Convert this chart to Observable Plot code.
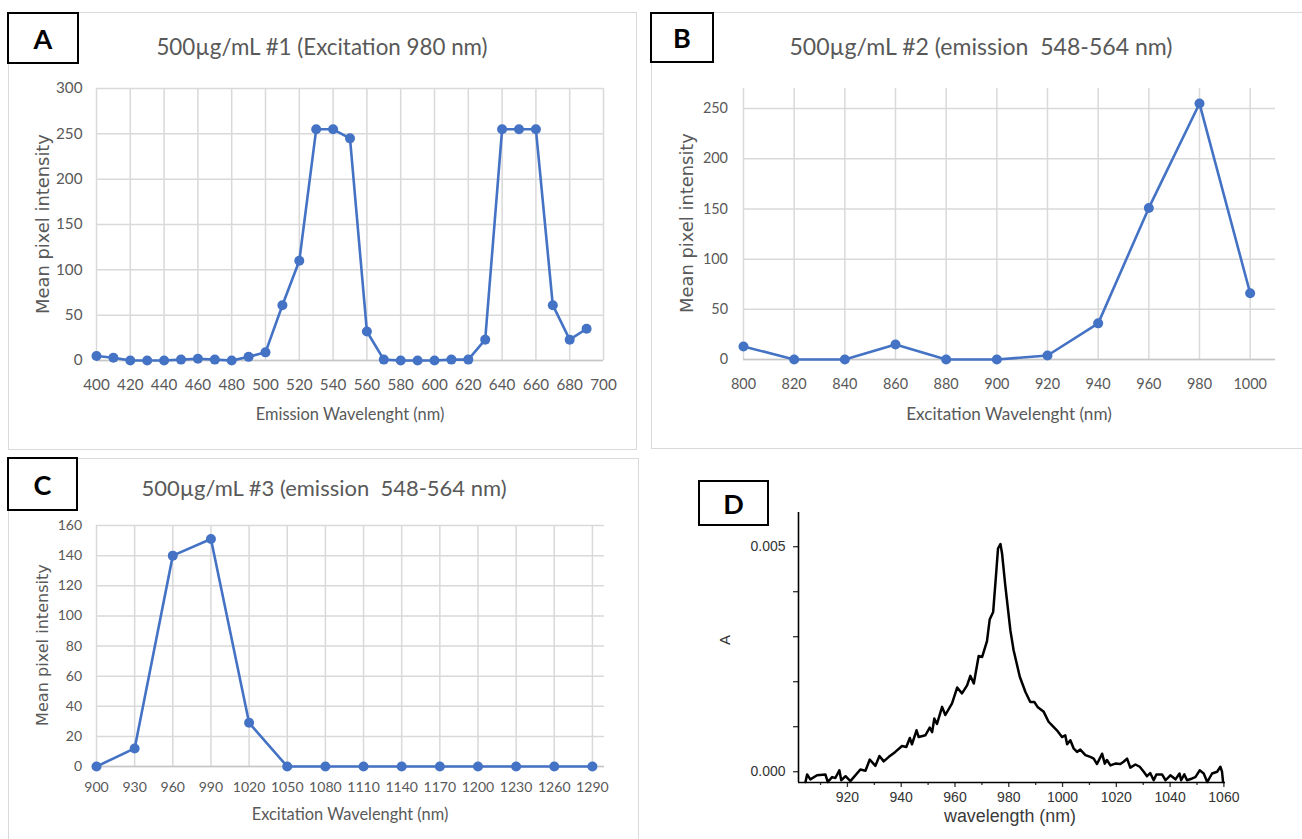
<!DOCTYPE html>
<html>
<head>
<meta charset="utf-8">
<script src="https://cdn.jsdelivr.net/npm/d3@7"></script>
<script src="https://cdn.jsdelivr.net/npm/@observablehq/plot@0.6"></script>
<style>
  html, body { margin: 0; padding: 0; background: #fff; }
  #root { position: relative; width: 1302px; height: 839px; overflow: hidden; background: #fff; }
  .abs { position: absolute; white-space: pre; line-height: 1; }
  .panel { position: absolute; border: 1px solid #d9d9d9; box-sizing: border-box; }
  .lbl { position: absolute; border: 2px solid #000; background: #fff; box-sizing: border-box;
         display: flex; align-items: center; justify-content: center;
         font-family: Lato, "Open Sans", sans-serif; font-weight: 700; color: #000; }
  svg { position: absolute; overflow: visible; }
</style>
</head>
<body>
<div id="root"></div>
<script>
// ---------------- DATA ----------------
// Panel A: 500µg/mL #1 (Excitation 980 nm)
const xA = [400,410,420,430,440,450,460,470,480,490,500,510,520,530,540,550,560,570,580,590,600,610,620,630,640,650,660,670,680,690];
const yA = [5,3,0,0,0,1,2,1,0,4,9,61,110,255,255,245,32,1,0,0,0,1,1,23,255,255,255,61,23,35];
const xTicksA = [400,420,440,460,480,500,520,540,560,580,600,620,640,660,680,700];
const yTicksA = [0,50,100,150,200,250,300];

// Panel B: 500µg/mL #2 (emission 548-564 nm)
const xB = [800,820,840,860,880,900,920,940,960,980,1000];
const yB = [13,0,0,15,0,0,4,36,151,255,66];
const xTicksB = [800,820,840,860,880,900,920,940,960,980,1000];
const yTicksB = [0,50,100,150,200,250];

// Panel C: 500µg/mL #3 (emission 548-564 nm)
const xC = [900,930,960,990,1020,1050,1080,1110,1140,1170,1200,1230,1260,1290];
const yC = [0,12,140,151,29,0,0,0,0,0,0,0,0,0];
const xTicksC = [900,930,960,990,1020,1050,1080,1110,1140,1170,1200,1230,1260,1290];
const yTicksC = [0,20,40,60,80,100,120,140,160];

// Panel D: absorbance spectrum
const xD = [904.4,905,906.2,908.7,911.8,912.7,914.3,915.5,917,917.7,919.3,921.1,924.8,926.7,928.3,930.4,931.9,933.5,935.4,937.8,940.3,941.9,943.2,944,945.7,946.5,949,950.6,951.5,952.3,953.3,955.2,956.4,958.9,960.8,962.6,964.5,965.7,967,968.8,970.1,971.9,972.9,974.2,975.4,976,976.9,977.5,978.7,980.6,981.8,984.1,986.2,988,989.5,990.7,993,994.8,996.1,997.9,999.8,1001,1001.7,1002.9,1004.1,1005.4,1006.6,1008.5,1010.3,1011.6,1012.8,1014.7,1015.7,1016.5,1017.8,1019.6,1021.5,1022.7,1024,1025.2,1027.1,1028.7,1030.2,1031.4,1032.6,1033.9,1034.9,1037,1038.3,1040.1,1042,1043.5,1044.1,1045.3,1046.3,1048.2,1049.4,1051,1052.5,1053.8,1055.6,1057.5,1058.7,1059.3,1059.7];
const yD = [-0.00023,-0.00006,-0.00017,-0.00008,-0.00006,-0.00023,-0.00012,-0.00014,0.00003,-0.00019,-0.0001,-0.00021,0.00005,0.00002,0.00027,0.00013,0.00035,0.00023,0.00033,0.00044,0.00057,0.00055,0.00075,0.00061,0.00092,0.00077,0.00081,0.00098,0.00088,0.00118,0.00106,0.00144,0.00126,0.00152,0.00187,0.00174,0.00192,0.00213,0.00196,0.00257,0.00255,0.0029,0.00338,0.00355,0.00448,0.00496,0.00506,0.00485,0.00414,0.00314,0.0027,0.00211,0.00177,0.00155,0.00155,0.00144,0.00133,0.00111,0.00103,0.00092,0.00077,0.00081,0.00061,0.0007,0.00052,0.00044,0.00049,0.00037,0.00033,0.00029,0.00017,0.0004,0.00018,0.00026,0.00014,0.00018,0.00017,0.00022,0.00029,0.00009,0.00016,0.00011,0.0,-0.0001,-0.00003,-0.00019,-0.00006,-0.00006,-0.00019,-0.00008,-0.00017,-0.00004,-0.00019,-0.00006,-0.00019,-0.00015,-0.00012,0.00003,-0.00004,-0.00023,-0.00004,0.0,0.00011,0.0,-0.00023];
const xTicksD = [920,940,960,980,1000,1020,1040,1060];
const xMinorD = [910,930,950,970,990,1010,1030,1050];
const yTicksD = [0,0.005];
const yMinorD = [0.001,0.002,0.003,0.004];

const titles = ["500µg/mL #1 (Excitation 980 nm)", "500µg/mL #2 (emission  548-564 nm)", "500µg/mL #3 (emission  548-564 nm)"];
const xTitles = ["Emission Wavelenght (nm)", "Excitation Wavelenght (nm)", "Excitation Wavelenght (nm)"];
const yTitle = "Mean pixel intensity";
const panelLetters = ["A","B","C","D"];

// ---------------- HELPERS ----------------
const root = document.getElementById("root");
const XL = "Lato, 'Open Sans', sans-serif";
const ARIAL = "'Liberation Sans', Arial, sans-serif";
const VERD = "'DejaVu Sans', Verdana, sans-serif";
const ctx = document.createElement("canvas").getContext("2d");
function fit(text, family, weight, target) {
  ctx.font = `${weight} 100px ${family}`;
  return 100 * target / ctx.measureText(text).width;
}
function addText(text, cx, cy, family, weight, size, color, rotate = 0) {
  const d = document.createElement("div");
  d.className = "abs";
  d.textContent = text;
  Object.assign(d.style, {left: cx + "px", top: cy + "px", fontFamily: family, fontWeight: weight,
    fontSize: size + "px", color, transform: `translate(-50%,-50%) rotate(${rotate}deg)`});
  root.appendChild(d);
}
function addBox(cls, l, t, w, h) {
  const d = document.createElement("div");
  d.className = cls;
  Object.assign(d.style, {left: l + "px", top: t + "px", width: w + "px", height: h + "px"});
  root.appendChild(d);
  return d;
}
function place(svg, l, t) { svg.style.left = l + "px"; svg.style.top = t + "px"; root.appendChild(svg); }

function excelPanel(o) {
  const data = o.xs.map((x, i) => ({x, y: o.ys[i]}));
  return Plot.plot({
    width: o.width, height: o.height,
    marginLeft: o.ml, marginRight: o.mr, marginTop: o.mt, marginBottom: o.mb,
    x: {domain: o.xDomain, label: null},
    y: {domain: o.yDomain, label: null},
    style: {fontFamily: XL, fontSize: o.fs + "px", color: "#595959", background: "transparent", overflow: "visible"},
    marks: [
      Plot.gridX(o.xTicks, {stroke: "#d9d9d9", strokeOpacity: 1, strokeWidth: 1.5}),
      Plot.gridY(o.yTicks, {stroke: "#d9d9d9", strokeOpacity: 1, strokeWidth: 1.5}),
      Plot.ruleY([0], {stroke: "#c6c6c6", strokeWidth: 1.5}),
      Plot.axisX({ticks: o.xTicks, tickSize: 0, tickPadding: o.xPad, tickFormat: d3.format("d"), fontSize: o.fs, label: null}),
      Plot.axisY({ticks: o.yTicks, tickSize: 0, tickPadding: o.yPad, tickFormat: d3.format("d"), fontSize: o.fs, label: null}),
      Plot.line(data, {x: "x", y: "y", stroke: "#4472C4", strokeWidth: 2.6}),
      Plot.dot(data, {x: "x", y: "y", r: 5, fill: "#4472C4"})
    ]
  });
}

// ---------------- PANEL FRAMES ----------------
addBox("panel", 8, 12, 629, 438);
addBox("panel", 651, 12, 700, 437);
addBox("panel", 8, 458, 631, 420);

// ---------------- PANEL A ----------------
const fsA = fit("700", XL, 400, 26.5);
place(excelPanel({xs: xA, ys: yA, xDomain: [400, 700], yDomain: [0, 300], xTicks: xTicksA, yTicks: yTicksA,
  width: 640, height: 450, ml: 96, mr: 37, mt: 88, mb: 90, fs: fsA, xPad: 24 - 0.36 * fsA, yPad: 14}), 0, 0);
addText(titles[0], 322, 47, XL, 400, fit(titles[0], XL, 400, 332), "#595959");
addText(xTitles[0], 350, 414, XL, 400, fit(xTitles[0], XL, 400, 189), "#595959");
addText(yTitle, 43, 224, VERD, 400, fit(yTitle, VERD, 400, 180), "#595959", -90);

// ---------------- PANEL B ----------------
const fsB = fit("1000", XL, 400, 33.5);
place(excelPanel({xs: xB, ys: yB, xDomain: [800, 1010], yDomain: [0, 270], xTicks: xTicksB, yTicks: yTicksB,
  width: 657, height: 450, ml: 98, mr: 27, mt: 88, mb: 91, fs: fsB, xPad: 24 - 0.36 * fsB, yPad: 15.5}), 645, 0);
addText(titles[1], 981, 47, XL, 400, fit(titles[1], XL, 400, 384), "#595959");
addText(xTitles[1], 1009, 414, XL, 400, fit(xTitles[1], XL, 400, 206), "#595959");
addText(yTitle, 687, 223, VERD, 400, fit(yTitle, VERD, 400, 180), "#595959", -90);

// ---------------- PANEL C ----------------
const fsC = fit("1290", XL, 400, 32.6);
place(excelPanel({xs: xC, ys: yC, xDomain: [900, 1299.5], yDomain: [0, 160], xTicks: xTicksC, yTicks: yTicksC,
  width: 640, height: 384, ml: 96, mr: 36, mt: 70, mb: 73, fs: fsC, xPad: 20.5 - 0.36 * fsC, yPad: 14.4}), 0, 455);
addText(titles[2], 324, 488, XL, 400, fit(titles[2], XL, 400, 366), "#595959");
addText(xTitles[2], 350, 814, XL, 400, fit(xTitles[2], XL, 400, 197), "#595959");
addText(yTitle, 43, 645, VERD, 400, fit(yTitle, VERD, 400, 162), "#595959", -90);

// ---------------- PANEL D ----------------
{
  const data = xD.map((x, i) => ({x, y: yD[i]}));
  const xMin = 901.8, yMin = -0.00024;
  const svg = Plot.plot({
    width: 612, height: 359, marginLeft: 108, marginRight: 77, marginTop: 32, marginBottom: 57,
    x: {domain: [xMin, 1060.6], label: null},
    y: {domain: [yMin, 0.00576], label: null},
    style: {fontFamily: ARIAL, fontSize: "14px", color: "#333", background: "transparent", overflow: "visible"},
    marks: [
      Plot.axisX({ticks: xTicksD, tickSize: 5, tickPadding: 4.5, tickFormat: d3.format("d"), fontSize: 14, strokeWidth: 1.3, label: null}),
      Plot.axisX({ticks: xMinorD, tickSize: 3, tickFormat: () => "", strokeWidth: 1.3, label: null}),
      Plot.axisY({ticks: yTicksD, tickSize: 5, tickPadding: 8, tickFormat: d3.format(".3f"), fontSize: 14, strokeWidth: 1.3, label: null}),
      Plot.axisY({ticks: yMinorD, tickSize: 5, tickFormat: () => "", strokeWidth: 1.3, label: null}),
      Plot.ruleX([xMin], {stroke: "#000", strokeWidth: 1.6}),
      Plot.ruleY([yMin], {stroke: "#000", strokeWidth: 1.6}),
      Plot.line(data, {x: "x", y: "y", stroke: "#000", strokeWidth: 2.5, strokeLinejoin: "round"})
    ]
  });
  place(svg, 690, 480);
  addText("wavelength (nm)", 1010, 817, ARIAL, 400, fit("wavelength (nm)", ARIAL, 400, 132), "#3a3a3a");
  addText("A", 724, 640, ARIAL, 400, 15, "#333", -90);
}

// ---------------- LETTER BOXES ----------------
const boxes = [[7, 12, 72, 52], [650, 12, 64, 51], [7, 457, 71, 54], [698, 480, 71, 46]];
boxes.forEach(([l, t, w, h], i) => {
  const b = addBox("lbl", l, t, w, h);
  b.textContent = panelLetters[i];
  b.style.fontSize = "27px";
});
</script>
</body>
</html>
